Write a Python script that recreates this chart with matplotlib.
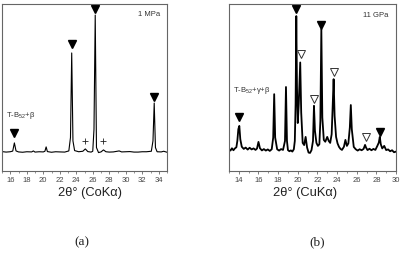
import matplotlib.pyplot as plt
from matplotlib.ticker import MultipleLocator

# (a) 1 MPa, CoKa  -- 2theta / intensity (arb.)
tt_a = [15.0, 15.5, 16.0, 16.3, 16.5, 16.7, 17.0, 17.5, 18.0, 18.6, 18.8, 19.0, 19.5, 20.0, 20.2,
        20.35, 20.5, 21.0, 21.5, 22.0, 22.6, 23.1, 23.3, 23.45, 23.6, 23.8, 24.3, 24.8, 25.1,
        25.4, 25.8, 26.0, 26.15, 26.3, 26.45, 26.7, 27.0, 27.3, 27.6, 28.0, 28.5, 29.2, 29.5,
        30.0, 30.5, 31.0, 31.5, 32.0, 32.5, 33.1, 33.3, 33.45, 33.6, 33.8, 34.3, 34.6, 35.0]
int_a = [11.6, 11.3, 11.5, 11.9, 16.8, 12.0, 11.4, 11.2, 11.5, 11.4, 12.0, 11.3, 11.5, 11.4, 11.8,
         14.4, 11.6, 11.2, 11.5, 11.4, 11.3, 12.0, 20.0, 70.7, 18.0, 12.2, 11.5, 11.8, 13.2,
         11.6, 11.3, 11.8, 25.0, 93.4, 14.0, 11.0, 11.4, 12.6, 11.5, 11.3, 11.4, 12.0, 11.4,
         11.5, 11.6, 11.3, 11.3, 11.5, 11.5, 11.8, 18.0, 40.7, 14.0, 11.5, 11.4, 11.8, 11.2]
tri_a_x = [16.5, 23.45, 26.3, 33.45]
tri_a_y = [22.8, 76.0, 97.0, 44.3]
plus_a_x = [25.1, 27.3]
plus_a_y = [18.0, 18.0]

# (b) 11 GPa, CuKa
tt_b = [13.0, 13.15, 13.3, 13.45, 13.6, 13.75, 13.85, 13.95, 14.05, 14.15, 14.3, 14.5, 14.7,
        14.9, 15.1, 15.3, 15.5, 15.7, 15.85, 16.0, 16.15, 16.35, 16.55, 16.75, 16.95, 17.15,
        17.35, 17.5, 17.6, 17.7, 17.9, 18.1, 18.3, 18.5, 18.7, 18.8, 18.9, 19.0, 19.15, 19.3,
        19.45, 19.6, 19.7, 19.78, 19.85, 19.92, 20.0, 20.1, 20.25, 20.35, 20.5, 20.65, 20.8,
        20.95, 21.1, 21.25, 21.4, 21.55, 21.65, 21.75, 21.9, 22.05, 22.2, 22.3, 22.4, 22.5,
        22.65, 22.8, 23.0, 23.15, 23.3, 23.45, 23.55, 23.65, 23.75, 23.9, 24.05, 24.2, 24.35,
        24.5, 24.7, 24.85, 25.0, 25.15, 25.3, 25.4, 25.5, 25.7, 25.9, 26.1, 26.3, 26.5, 26.7,
        26.85, 26.95, 27.1, 27.3, 27.5, 27.7, 27.9, 28.1, 28.25, 28.35, 28.45, 28.6, 28.8, 29.0,
        29.2, 29.4, 29.6, 29.8, 30.0]
int_b = [13.0, 12.2, 13.6, 12.4, 13.5, 14.2, 18.0, 25.0, 27.0, 19.0, 14.5, 13.2, 14.0,
         12.8, 13.9, 12.9, 13.5, 12.6, 13.4, 17.4, 13.6, 12.3, 13.1, 12.2, 12.9, 12.0,
         13.0, 20.0, 46.0, 20.0, 13.0, 12.2, 13.1, 12.6, 18.0, 50.3, 18.0, 12.5, 11.8, 12.3,
         11.6, 13.0, 18.0, 40.0, 92.8, 50.0, 28.7, 40.0, 65.0, 35.0, 16.8, 15.5, 20.4,
         14.0, 11.0, 10.8, 12.5, 18.0, 39.0, 24.0, 16.8, 15.0, 16.0, 30.0, 85.0, 32.0,
         18.6, 17.5, 20.4, 18.0, 16.8, 22.0, 38.0, 55.0, 33.0, 20.4, 16.5, 14.4, 13.2,
         12.6, 14.5, 18.6, 15.0, 16.5, 26.0, 39.5, 25.0, 14.4, 13.0, 12.2, 13.0, 12.4, 13.2,
         15.6, 14.0, 12.5, 13.3, 12.4, 13.2, 12.6, 15.0, 17.0, 20.4, 16.0, 13.5, 15.0, 12.5,
         12.9, 11.8, 12.4, 11.2, 11.6]
tri_b_fill_x = [14.05, 19.85, 22.4, 28.35]
tri_b_fill_y = [32.3, 97.0, 87.4, 23.4]
tri_b_open_x = [20.3, 21.65, 23.7, 26.9]
tri_b_open_y = [70.0, 43.0, 59.3, 20.4]

plt.rcParams['font.family'] = ['Liberation Sans', 'DejaVu Sans']
plt.rcParams['mathtext.fontset'] = 'custom'
plt.rcParams['mathtext.rm'] = 'Liberation Sans'

fig = plt.figure(figsize=(4, 2.54), dpi=100)
ax1 = fig.add_axes([0.005, 0.327, 0.4125, 0.657])
ax2 = fig.add_axes([0.5725, 0.327, 0.4175, 0.657])

frame = '#666666'
for ax in (ax1, ax2):
    for s in ax.spines.values():
        s.set_color(frame)
        s.set_linewidth(0.8)
    ax.set_yticks([])
    ax.set_ylim(0, 100)
    ax.xaxis.set_major_locator(MultipleLocator(2))
    ax.xaxis.set_minor_locator(MultipleLocator(1))
    ax.tick_params(axis='x', which='major', direction='out', length=2.5, width=0.6,
                   color=frame, labelsize=5.5, labelcolor='#444444', pad=2)
    ax.tick_params(axis='x', which='minor', direction='out', length=1.5, width=0.5, color=frame)

# (a)
ax1.plot(tt_a, int_a, color='black', lw=0.8)
ax1.plot(tri_a_x, tri_a_y, 'v', color='black', ms=5.5)
ax1.plot(plus_a_x, plus_a_y, '+', color='#222222', ms=4, mew=0.6)
ax1.set_xlim(15, 35)
ax1.set_xticks(range(16, 35, 2))
ax1.text(15.45, 33, 'T-B$_{52}$+β', fontsize=5.5, color='#333333', va='center')
ax1.text(34.2, 94, '1 MPa', fontsize=5.5, color='#333333', ha='right', va='center')

# (b)
ax2.plot(tt_b, int_b, color='black', lw=1.3)
ax2.plot(tri_b_fill_x, tri_b_fill_y, 'v', color='black', ms=5.5)
ax2.plot(tri_b_open_x, tri_b_open_y, 'v', mfc='white', mec='#333333', mew=0.7, ms=5.5)
ax2.set_xlim(13, 30)
ax2.set_xticks(range(14, 31, 2))
ax2.text(13.4, 48.5, 'T-B$_{52}$+γ+β', fontsize=5.5, color='#333333', va='center')
ax2.text(29.2, 93.4, '11 GPa', fontsize=5.5, color='#333333', ha='right', va='center')

fig.text(90 / 400, 1 - 193 / 254, '2θ° (CoKα)', fontsize=9.3, color='#222222', ha='center', va='center')
fig.text(305 / 400, 1 - 193 / 254, '2θ° (CuKα)', fontsize=9.3, color='#222222', ha='center', va='center')
fig.text(82 / 400, 1 - 242 / 254, '(a)', fontsize=9.5, family='Liberation Serif', color='#222222', ha='center', va='center')
fig.text(317 / 400, 1 - 242 / 254, '(b)', fontsize=9.5, family='Liberation Serif', color='#222222', ha='center', va='center')

fig.savefig('out.png', dpi=100)
